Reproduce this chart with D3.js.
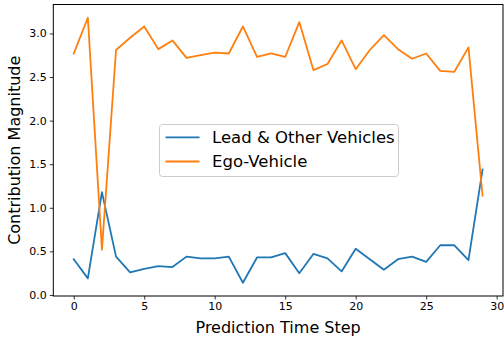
<!DOCTYPE html>
<html>
<head>
<meta charset="utf-8">
<script src="https://cdn.jsdelivr.net/npm/d3@7"></script>
<style>
  html, body { margin: 0; padding: 0; background: #fff; }
  svg { display: block; }
</style>
</head>
<body>
<div id="chart"></div>
<script>
// prediction time steps 0..29
const steps = [0, 1, 2, 3, 4, 5, 6, 7, 8, 9, 10, 11, 12, 13, 14, 15, 16, 17, 18, 19, 20, 21, 22, 23, 24, 25, 26, 27, 28, 29];

const leadOther = [0.41, 0.19, 1.18, 0.44, 0.26, 0.30, 0.33, 0.32, 0.44, 0.42,
                   0.42, 0.44, 0.14, 0.43, 0.43, 0.48, 0.25, 0.47, 0.42, 0.27,
                   0.53, 0.41, 0.29, 0.41, 0.44, 0.38, 0.57, 0.57, 0.40, 1.44];

const egoVehicle = [2.77, 3.18, 0.52, 2.81, 2.95, 3.08, 2.82, 2.92, 2.72, 2.75,
                    2.78, 2.77, 3.08, 2.73, 2.77, 2.73, 3.13, 2.58, 2.65, 2.92,
                    2.59, 2.81, 2.98, 2.82, 2.71, 2.77, 2.57, 2.56, 2.84, 1.14];

const seriesNames = ['Lead & Other Vehicles', 'Ego-Vehicle'];
const seriesColors = ['#1f77b4', '#ff7f0e'];
const xTicks = [0, 5, 10, 15, 20, 25, 30];
const yTicks = [0.0, 0.5, 1.0, 1.5, 2.0, 2.5, 3.0];

const W = 504, H = 339;
const plot = { left: 53.3, right: 503, top: 4.5, bottom: 296 };
const font = 'DejaVu Sans, sans-serif';

const svg = d3.select('#chart')
  .append('svg')
  .attr('width', W)
  .attr('height', H);

// matplotlib-style 5% margins
const xPad = (d3.max(steps) - d3.min(steps)) * 0.05;
const x = d3.scaleLinear()
  .domain([d3.min(steps) - xPad, d3.max(steps) + xPad])
  .range([plot.left, plot.right]);

const allVals = leadOther.concat(egoVehicle);
const yMin = d3.min(allVals), yMax = d3.max(allVals);
const yPad = (yMax - yMin) * 0.05;
const y = d3.scaleLinear()
  .domain([yMin - yPad, yMax + yPad])
  .range([plot.bottom, plot.top]);

// Axes
const xAxis = svg.append('g')
  .attr('transform', `translate(0,${plot.bottom})`)
  .call(d3.axisBottom(x).tickValues(xTicks).tickFormat(d3.format('d')).tickSizeOuter(0).tickSize(3.5).tickPadding(3));

const yAxis = svg.append('g')
  .attr('transform', `translate(${plot.left},0)`)
  .call(d3.axisLeft(y).tickValues(yTicks).tickFormat(d3.format('.1f')).tickSizeOuter(0).tickSize(3.5).tickPadding(3));

[xAxis, yAxis].forEach((g) => {
  g.select('.domain').remove();
  g.selectAll('line').attr('stroke', '#000').attr('stroke-width', 0.8);
  g.selectAll('text')
    .attr('font-family', font)
    .attr('font-size', '11px')
    .attr('fill', '#000');
});

// Lines
const line = d3.line()
  .x((d, i) => x(steps[i]))
  .y((d) => y(d));

[leadOther, egoVehicle].forEach((vals, i) => {
  svg.append('path')
    .datum(vals)
    .attr('d', line)
    .attr('fill', 'none')
    .attr('stroke', seriesColors[i])
    .attr('stroke-width', 1.8)
    .attr('stroke-linejoin', 'round')
    .attr('stroke-linecap', 'square');
});

// Frame
svg.append('rect')
  .attr('x', plot.left)
  .attr('y', plot.top)
  .attr('width', plot.right - plot.left)
  .attr('height', plot.bottom - plot.top)
  .attr('fill', 'none')
  .attr('stroke', '#000')
  .attr('stroke-width', 1);

// Axis labels
svg.append('text')
  .attr('x', (plot.left + plot.right) / 2)
  .attr('y', 333)
  .attr('text-anchor', 'middle')
  .attr('font-family', font)
  .attr('font-size', '16px')
  .attr('fill', '#000')
  .text('Prediction Time Step');

svg.append('text')
  .attr('transform', `translate(20,${(plot.top + plot.bottom) / 2}) rotate(-90)`)
  .attr('text-anchor', 'middle')
  .attr('font-family', font)
  .attr('font-size', '16px')
  .attr('fill', '#000')
  .text('Contribution Magnitude');

// Legend
const legend = svg.append('g').attr('transform', 'translate(159.5,124.5)');
legend.append('rect')
  .attr('width', 239)
  .attr('height', 52)
  .attr('rx', 3)
  .attr('fill', '#fff')
  .attr('fill-opacity', 0.8)
  .attr('stroke', '#ccc')
  .attr('stroke-width', 1);

seriesNames.forEach((name, i) => {
  const ly = 12.8 + i * 24.2;
  legend.append('line')
    .attr('x1', 6).attr('x2', 40)
    .attr('y1', ly).attr('y2', ly)
    .attr('stroke', seriesColors[i])
    .attr('stroke-width', 1.8);
  legend.append('text')
    .attr('x', 52.5)
    .attr('y', ly)
    .attr('dy', '0.36em')
    .attr('font-family', font)
    .attr('font-size', '16.5px')
    .attr('fill', '#000')
    .text(name);
});
</script>
</body>
</html>
